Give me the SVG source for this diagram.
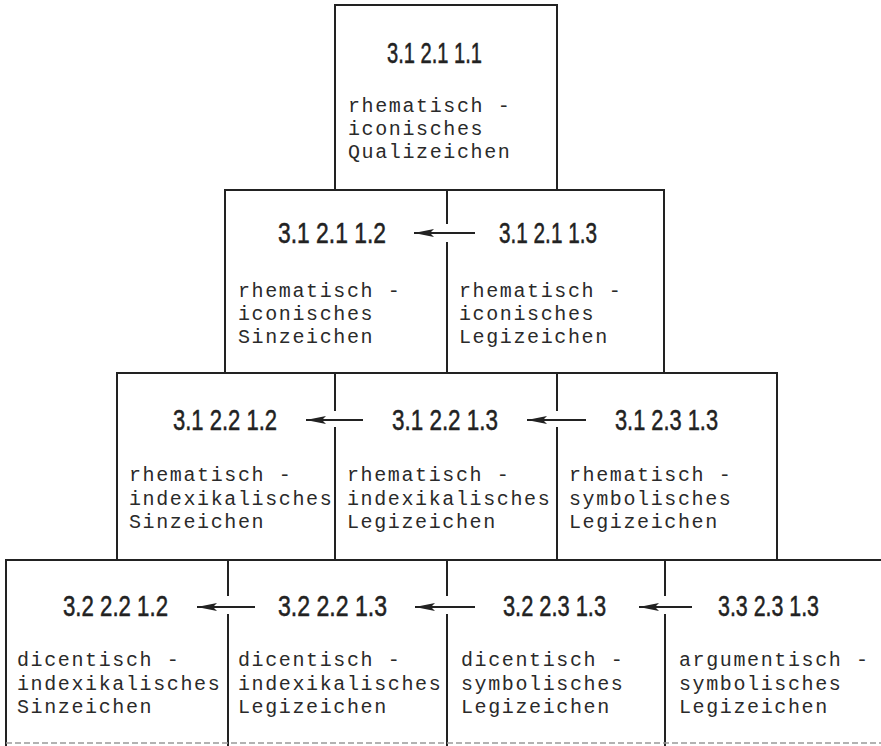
<svg xmlns="http://www.w3.org/2000/svg" width="881" height="746" viewBox="0 0 881 746">
<style>
.box{fill:none;stroke:#222;stroke-width:2;stroke-linecap:square}
.num{font-family:"Liberation Sans",Arial,sans-serif;font-size:29px;fill:#222;stroke:#222;stroke-width:0.5}
.lbl{font-family:"Liberation Mono","Courier New",monospace;font-size:20px;letter-spacing:1.62px;fill:#2a2a2a}
.arr{fill:none;stroke:#222;stroke-width:2;marker-end:url(#ah)}
.edge{fill:none;stroke:#999;stroke-width:1.5;stroke-dasharray:6 3}
</style>
<defs>
<marker id="ah" markerUnits="userSpaceOnUse" markerWidth="22" markerHeight="10" refX="20" refY="4" orient="auto">
<path d="M0,0 L20,4 L0,8 L4,4 Z" fill="#222"/>
</marker>
</defs>
<rect width="881" height="746" fill="#fff"/>
<g id="node-311-211-111">
<path class="box" d="M335,5 H557 V190 H335 Z"/>
<text class="num" x="387" y="63" textLength="95" lengthAdjust="spacingAndGlyphs">3.1 2.1 1.1</text>
<text class="lbl" x="348" y="112">rhematisch -</text>
<text class="lbl" x="348" y="135">iconisches</text>
<text class="lbl" x="348" y="158">Qualizeichen</text>
</g>
<g id="node-31-21-12">
<path class="box" d="M447,223 V190 H225 V373 H447 V243"/>
<text class="num" x="278" y="243" textLength="108" lengthAdjust="spacingAndGlyphs">3.1 2.1 1.2</text>
<text class="lbl" x="238" y="297">rhematisch -</text>
<text class="lbl" x="238" y="320">iconisches</text>
<text class="lbl" x="238" y="343">Sinzeichen</text>
</g>
<g id="node-31-21-13">
<path class="box" d="M447,223 V190 H664 V373 H447 V243"/>
<text class="num" x="499" y="243" textLength="98" lengthAdjust="spacingAndGlyphs">3.1 2.1 1.3</text>
<text class="lbl" x="459" y="297">rhematisch -</text>
<text class="lbl" x="459" y="320">iconisches</text>
<text class="lbl" x="459" y="343">Legizeichen</text>
</g>
<g id="node-31-22-12">
<path class="box" d="M335,410 V373 H117 V560 H335 V428"/>
<text class="num" x="173" y="430" textLength="104" lengthAdjust="spacingAndGlyphs">3.1 2.2 1.2</text>
<text class="lbl" x="129" y="481">rhematisch -</text>
<text class="lbl" x="129" y="504.5">indexikalisches</text>
<text class="lbl" x="129" y="528">Sinzeichen</text>
</g>
<g id="node-31-22-13">
<path class="box" d="M335,410 V373 H557 V410 M557,428 V560 H335 V428"/>
<text class="num" x="392" y="430" textLength="106" lengthAdjust="spacingAndGlyphs">3.1 2.2 1.3</text>
<text class="lbl" x="347" y="481">rhematisch -</text>
<text class="lbl" x="347" y="504.5">indexikalisches</text>
<text class="lbl" x="347" y="528">Legizeichen</text>
</g>
<g id="node-31-23-13">
<path class="box" d="M557,410 V373 H777 V560 H557 V428"/>
<text class="num" x="615" y="430" textLength="103" lengthAdjust="spacingAndGlyphs">3.1 2.3 1.3</text>
<text class="lbl" x="569" y="481">rhematisch -</text>
<text class="lbl" x="569" y="504.5">symbolisches</text>
<text class="lbl" x="569" y="528">Legizeichen</text>
</g>
<g id="node-32-22-12">
<path class="box" d="M228,595 V560 H6 V746 M228,615 V746"/>
<text class="num" x="63" y="616" textLength="105" lengthAdjust="spacingAndGlyphs">3.2 2.2 1.2</text>
<text class="lbl" x="17" y="666">dicentisch -</text>
<text class="lbl" x="17" y="689.5">indexikalisches</text>
<text class="lbl" x="17" y="713">Sinzeichen</text>
</g>
<g id="node-32-22-13">
<path class="box" d="M228,595 V560 H447 V595 M447,615 V746 M228,615 V746"/>
<text class="num" x="278" y="616" textLength="109" lengthAdjust="spacingAndGlyphs">3.2 2.2 1.3</text>
<text class="lbl" x="238" y="666">dicentisch -</text>
<text class="lbl" x="238" y="689.5">indexikalisches</text>
<text class="lbl" x="238" y="713">Legizeichen</text>
</g>
<g id="node-32-23-13">
<path class="box" d="M447,595 V560 H665 V595 M665,615 V746 M447,615 V746"/>
<text class="num" x="503" y="616" textLength="103" lengthAdjust="spacingAndGlyphs">3.2 2.3 1.3</text>
<text class="lbl" x="461" y="666">dicentisch -</text>
<text class="lbl" x="461" y="689.5">symbolisches</text>
<text class="lbl" x="461" y="713">Legizeichen</text>
</g>
<g id="node-33-23-13">
<path class="box" d="M665,595 V560 H881 M665,615 V746"/>
<text class="num" x="718" y="616" textLength="101" lengthAdjust="spacingAndGlyphs">3.3 2.3 1.3</text>
<text class="lbl" x="679" y="666">argumentisch -</text>
<text class="lbl" x="679" y="689.5">symbolisches</text>
<text class="lbl" x="679" y="713">Legizeichen</text>
</g>
<g id="scan-edge">
<path class="edge" d="M6,743 H881"/>
</g>
<g id="connectors">
<path class="arr" d="M475,233 H414"/>
<path class="arr" d="M363,420 H306"/>
<path class="arr" d="M586,420 H527"/>
<path class="arr" d="M255,607 H197"/>
<path class="arr" d="M475,607 H415"/>
<path class="arr" d="M692,607 H639"/>
</g>
</svg>
